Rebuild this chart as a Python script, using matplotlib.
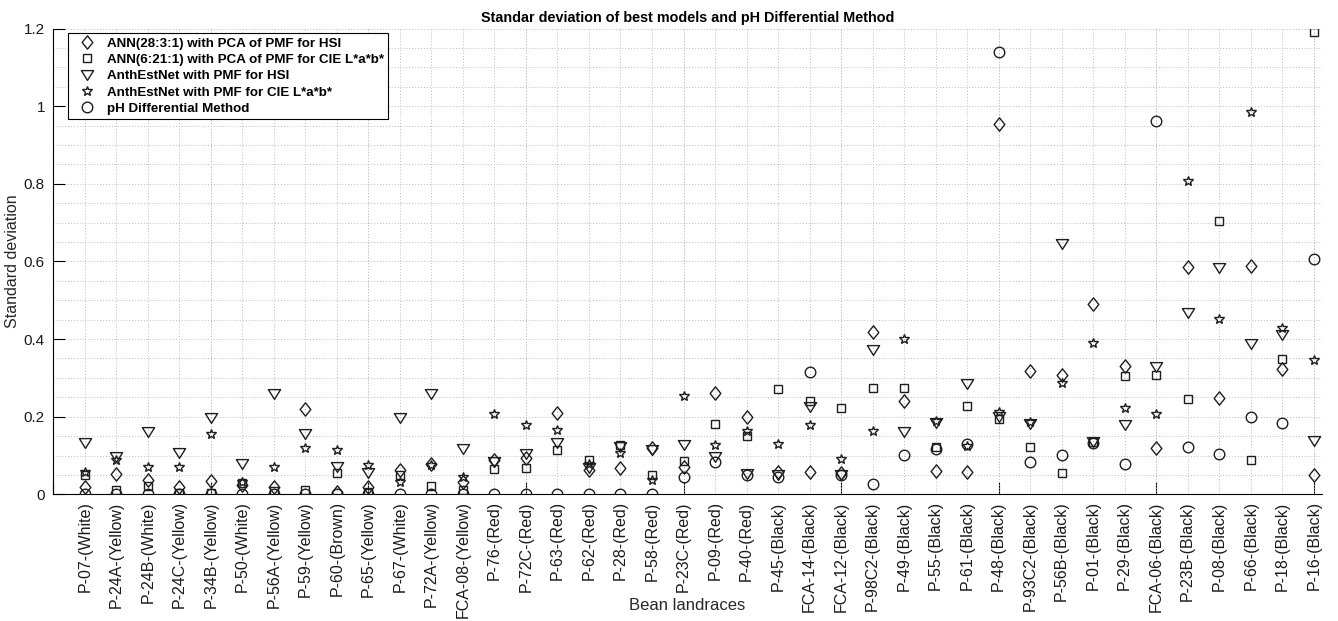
import matplotlib
matplotlib.use('Agg')
import matplotlib.pyplot as plt
from matplotlib.path import Path
from matplotlib.ticker import MultipleLocator, FuncFormatter
import numpy as np

plt.rcParams['font.family'] = ['Liberation Sans', 'DejaVu Sans']

landraces = ['P-07-(White)', 'P-24A-(Yellow)', 'P-24B-(White)', 'P-24C-(Yellow)',
             'P-34B-(Yellow)', 'P-50-(White)', 'P-56A-(Yellow)', 'P-59-(Yellow)',
             'P-60-(Brown)', 'P-65-(Yellow)', 'P-67-(White)', 'P-72A-(Yellow)',
             'FCA-08-(Yellow)', 'P-76-(Red)', 'P-72C-(Red)', 'P-63-(Red)',
             'P-62-(Red)', 'P-28-(Red)', 'P-58-(Red)', 'P-23C-(Red)',
             'P-09-(Red)', 'P-40-(Red)', 'P-45-(Black)', 'FCA-14-(Black)',
             'FCA-12-(Black)', 'P-98C2-(Black)', 'P-49-(Black)', 'P-55-(Black)',
             'P-61-(Black)', 'P-48-(Black)', 'P-93C2-(Black)', 'P-56B-(Black)',
             'P-01-(Black)', 'P-29-(Black)', 'FCA-06-(Black)', 'P-23B-(Black)',
             'P-08-(Black)', 'P-66-(Black)', 'P-18-(Black)', 'P-16-(Black)']

ann_pca_hsi = [0.020, 0.052, 0.038, 0.018, 0.035, 0.025, 0.020, 0.219, 0.007, 0.020,
               0.063, 0.078, 0.031, 0.088, 0.093, 0.209, 0.063, 0.067, 0.119, 0.070,
               0.260, 0.200, 0.058, 0.058, 0.055, 0.418, 0.241, 0.061, 0.058, 0.955,
               0.318, 0.308, 0.491, 0.331, 0.119, 0.585, 0.247, 0.589, 0.322, 0.050]

ann_pca_lab = [0.050, 0.011, 0.022, 0.004, 0.003, 0.030, 0.009, 0.011, 0.056, 0.005,
               0.050, 0.021, 0.011, 0.064, 0.067, 0.114, 0.088, 0.127, 0.050, 0.086,
               0.180, 0.150, 0.271, 0.241, 0.223, 0.273, 0.273, 0.121, 0.228, 0.193,
               0.122, 0.054, 0.134, 0.306, 0.308, 0.246, 0.703, 0.088, 0.348, 1.192]

anth_hsi = [0.133, 0.095, 0.161, 0.106, 0.196, 0.077, 0.258, 0.155, 0.071, 0.054,
            0.196, 0.258, 0.118, 0.084, 0.103, 0.132, 0.068, 0.121, 0.113, 0.127,
            0.097, 0.053, 0.050, 0.226, 0.050, 0.372, 0.160, 0.183, 0.284, 0.198,
            0.181, 0.644, 0.135, 0.179, 0.329, 0.466, 0.582, 0.387, 0.411, 0.138]

anth_lab = [0.058, 0.088, 0.070, 0.071, 0.155, 0.033, 0.070, 0.119, 0.114, 0.076,
            0.033, 0.076, 0.045, 0.206, 0.179, 0.166, 0.078, 0.106, 0.037, 0.254,
            0.127, 0.162, 0.129, 0.179, 0.090, 0.163, 0.400, 0.190, 0.125, 0.213,
            0.187, 0.288, 0.391, 0.222, 0.207, 0.807, 0.451, 0.985, 0.428, 0.346]

ph_diff = [0.0, 0.0, 0.0, 0.0, 0.0, 0.0, 0.0, 0.0, 0.0, 0.0,
           0.0, 0.0, 0.0, 0.0, 0.0, 0.0, 0.0, 0.0, 0.0, 0.044,
           0.082, 0.050, 0.044, 0.315, 0.050, 0.026, 0.101, 0.116, 0.130, 1.140,
           0.084, 0.101, 0.131, 0.077, 0.963, 0.123, 0.103, 0.200, 0.183, 0.606]

series_labels = ['ANN(28:3:1) with PCA of PMF for HSI',
                 'ANN(6:21:1) with PCA of PMF for CIE L*a*b*',
                 'AnthEstNet with PMF for HSI',
                 'AnthEstNet with PMF for CIE L*a*b*',
                 'pH Differential Method']

diamond = Path([(0, 1), (0.8, 0), (0, -1), (-0.8, 0), (0, 1)],
               [Path.MOVETO, Path.LINETO, Path.LINETO, Path.LINETO, Path.CLOSEPOLY])
tri_down = Path([(-1, 0.8), (1, 0.8), (0, -0.8), (-1, 0.8)],
                [Path.MOVETO, Path.LINETO, Path.LINETO, Path.CLOSEPOLY])

fig = plt.figure(figsize=(13.38, 6.21), dpi=100)
ax = fig.add_axes([0.0398, 0.204, 0.948, 0.750])

x = np.arange(1, len(landraces) + 1)
ec = '#1e1e1e'
styles = [(diamond, 9.6), ('s', 6.4), (tri_down, 8.8), ('*', 7.8), ('o', 7.6)]
for vals, lab, (mk, ms) in zip([ann_pca_hsi, ann_pca_lab, anth_hsi, anth_lab, ph_diff],
                               series_labels, styles):
    ax.plot(x, vals, linestyle='none', marker=mk, markersize=ms,
            markerfacecolor='none', markeredgecolor=ec, markeredgewidth=1.0,
            label=lab, zorder=3)

ax.set_xlim(0, 40.25)
ax.set_ylim(0, 1.2)

ax.xaxis.remove_overlapping_locs = False
ax.xaxis.set_major_locator(MultipleLocator(5))
ax.set_xticks(x, labels=landraces, minor=True)
ax.tick_params(axis='x', which='major', direction='in', length=8.5, width=0.8,
               labelbottom=False, color='black')
ax.tick_params(axis='x', which='minor', length=0, labelrotation=90,
               labelsize=11.5, pad=5, labelcolor='#1a1a1a')

ax.yaxis.set_major_locator(MultipleLocator(0.2))
ax.yaxis.set_minor_locator(MultipleLocator(0.05))
ax.yaxis.set_major_formatter(FuncFormatter(lambda v, p: f'{v:g}'))
ax.tick_params(axis='y', which='major', direction='in', length=8.5, width=0.8,
               labelsize=11, pad=6, labelcolor='#1a1a1a')
ax.tick_params(axis='y', which='minor', length=0)

ax.grid(True, which='both', linestyle=(0, (1, 2)), color='#bcbcbc', linewidth=0.7)
ax.set_axisbelow(True)

for s in ['top', 'right']:
    ax.spines[s].set_visible(False)
for s in ['left', 'bottom']:
    ax.spines[s].set_linewidth(0.8)
    ax.spines[s].set_color('black')

ax.set_title('Standar deviation of best models and pH Differential Method',
             fontsize=10.4, fontweight='bold', pad=5)
ax.set_ylabel('Standard deviation', fontsize=11.5, color='#262626')
ax.yaxis.set_label_coords(-0.026, 0.5)
ax.set_xlabel('Bean landraces', fontsize=12, color='#262626')
ax.xaxis.set_label_coords(0.5, -0.222)

leg = ax.legend(loc='upper left', bbox_to_anchor=(0.0116, 0.990), borderaxespad=0,
                frameon=True, fancybox=False, edgecolor='black', framealpha=1,
                prop={'weight': 'bold', 'size': 9.6}, handlelength=2.25,
                handletextpad=0.35, labelspacing=0.3, borderpad=0.3)
leg.get_frame().set_linewidth(0.8)

fig.savefig('out.png', dpi=100)
